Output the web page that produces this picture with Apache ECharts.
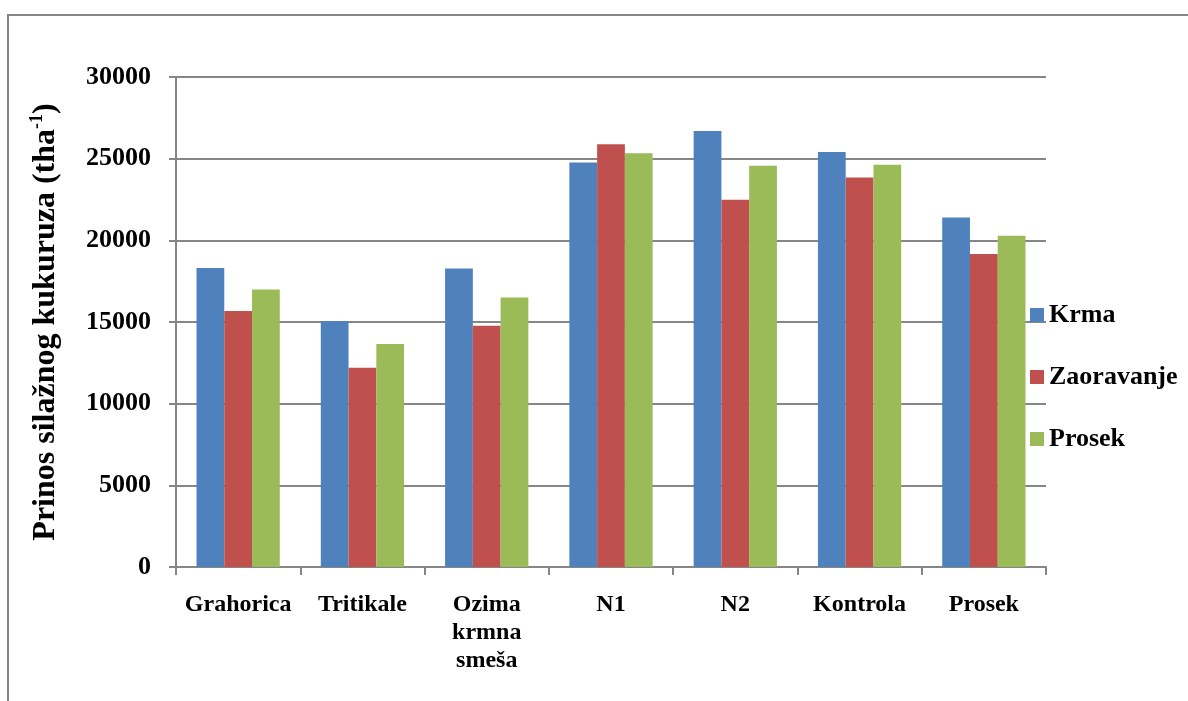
<!DOCTYPE html>
<html>
<head>
<meta charset="utf-8">
<script src="https://cdn.jsdelivr.net/npm/echarts@6/dist/echarts.min.js"></script>
<style>
html, body { margin: 0; padding: 0; background: #fff; }
#chart { width: 1188px; height: 701px; }
</style>
</head>
<body>
<div id="chart"></div>
<script>
// kategorije i vrednosti
var categories = ["Grahorica", "Tritikale", "Ozima\nkrmna\nsmeša", "N1", "N2", "Kontrola", "Prosek"];
var krma = [18300, 15050, 18280, 24770, 26700, 25410, 21400];
var zaoravanje = [15680, 12200, 14770, 25880, 22490, 23840, 19160];
var prosek = [16990, 13650, 16500, 25330, 24570, 24630, 20280];
var yTicks = { min: 0, max: 30000, interval: 5000 };

var font = "Liberation Serif";
var gray = "#868686";

var myChart = echarts.init(document.getElementById("chart"));

function bar(name, data, color) {
    return {
        name: name,
        type: "bar",
        data: data,
        barGap: "0%",
        barCategoryGap: "33%",
        itemStyle: { color: color }
    };
}

var option = {
    animation: false,
    graphic: [{
        type: "rect",
        shape: { x: 8, y: 15, width: 1200, height: 720 },
        style: { fill: null, stroke: gray, lineWidth: 2 }
    }],
    grid: { left: 176, right: 142, top: 77, bottom: 134 },
    legend: {
        orient: "vertical",
        left: 1025,
        top: 297,
        itemWidth: 14,
        itemHeight: 14,
        itemGap: 36,
        icon: "rect",
        textStyle: { fontFamily: font, fontWeight: "bold", fontSize: 26, color: "#000" },
        data: ["Krma", "Zaoravanje", "Prosek"]
    },
    xAxis: {
        type: "category",
        data: categories,
        axisLine: { lineStyle: { color: gray, width: 2 } },
        axisTick: { show: true, inside: false, length: 8, lineStyle: { color: gray, width: 2 } },
        axisLabel: {
            margin: 24,
            fontFamily: font, fontWeight: "bold", fontSize: 24, color: "#000",
            lineHeight: 28, interval: 0
        }
    },
    yAxis: {
        type: "value",
        min: yTicks.min,
        max: yTicks.max,
        interval: yTicks.interval,
        name: "{a|Prinos silažnog kukuruza (tha}{s|-1}{a|)}",
        nameLocation: "middle",
        nameGap: 114,
        nameRotate: 90,
        nameTextStyle: {
            rich: {
                a: { fontFamily: font, fontWeight: "bold", fontSize: 32, color: "#000", verticalAlign: "bottom", lineHeight: 34 },
                s: { fontFamily: font, fontWeight: "bold", fontSize: 18, color: "#000", verticalAlign: "top", lineHeight: 34 }
            }
        },
        axisLine: { show: true, lineStyle: { color: gray, width: 2 } },
        axisTick: { show: true, inside: false, length: 7, lineStyle: { color: gray, width: 2 } },
        splitLine: { lineStyle: { color: gray, width: 2 } },
        axisLabel: {
            margin: 25,
            formatter: function (v) { return String(v); },
            fontFamily: font, fontWeight: "bold", fontSize: 26, color: "#000"
        }
    },
    series: [
        bar("Krma", krma, "#4f81bd"),
        bar("Zaoravanje", zaoravanje, "#c0504d"),
        bar("Prosek", prosek, "#9bbb59")
    ]
};

myChart.setOption(option);
window.addEventListener("resize", function () {
    myChart.resize();
});
</script>
</body>
</html>
